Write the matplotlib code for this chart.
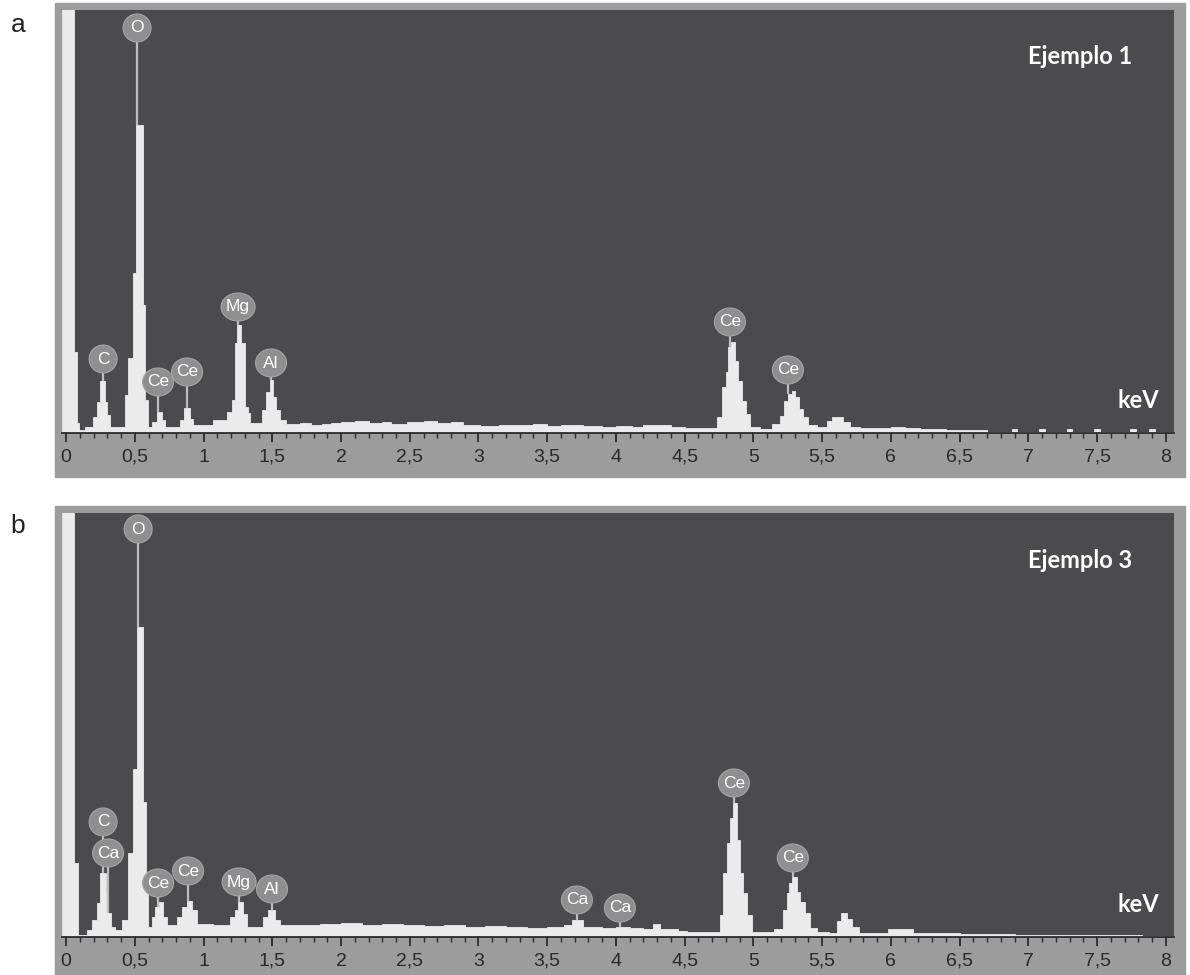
import numpy as np
import matplotlib
matplotlib.use("Agg")
import matplotlib.pyplot as plt
from matplotlib.patches import Rectangle, Ellipse
from matplotlib.transforms import ScaledTranslation

# energy channel edges (keV) and counts (arbitrary units)
edges_a = [-0.03, 0.055, 0.080, 0.095, 0.138, 0.196, 0.225, 0.247, 0.284, 0.298, 0.320,
           0.429, 0.451, 0.487, 0.509, 0.560, 0.575, 0.596, 0.625, 0.662, 0.698, 0.720,
           0.829, 0.858, 0.902, 0.924, 1.069, 1.171, 1.207, 1.229, 1.244, 1.273, 1.302,
           1.324, 1.338, 1.425, 1.455, 1.484, 1.505, 1.527, 1.556, 1.600, 1.700, 1.780,
           1.860, 1.930, 2.000, 2.100, 2.200, 2.300, 2.360, 2.480, 2.600, 2.700, 2.800,
           2.890, 3.010, 3.150, 3.280, 3.400, 3.500, 3.600, 3.760, 3.900, 4.000, 4.120,
           4.200, 4.300, 4.400, 4.500, 4.735, 4.771, 4.800, 4.815, 4.836, 4.865, 4.887,
           4.916, 4.945, 4.975, 5.047, 5.135, 5.193, 5.222, 5.251, 5.280, 5.302, 5.331,
           5.360, 5.396, 5.462, 5.535, 5.571, 5.651, 5.702, 5.775, 6.000, 6.100, 6.211,
           6.400, 6.700, 6.880, 6.920, 7.080, 7.120, 7.280, 7.320, 7.480, 7.520, 7.740,
           7.780, 7.880, 7.920, 8.060]
counts_a = [600, 81, 10, 3, 6, 16, 31, 52, 31, 18, 6,
            38, 75, 160, 308, 128, 33, 6, 11, 21, 13, 6,
            13, 25, 14, 8, 13, 21, 33, 90, 108, 90, 26,
            20, 10, 23, 41, 53, 36, 23, 13, 9, 10, 8,
            9, 10, 11, 12, 10, 11, 9, 11, 12, 10, 11,
            8, 7, 8, 8, 9, 7, 8, 7, 6, 7, 6,
            8, 8, 6, 5, 16, 46, 61, 86, 91, 72, 52,
            32, 19, 6, 4, 9, 17, 32, 39, 42, 36, 24,
            16, 8, 6, 12, 16, 11, 6, 5, 6, 5, 4,
            3, 1.5, 4, 1.5, 4, 1.5, 4, 1.5, 4, 1.5, 4,
            1.5, 4, 1.5]

edges_b = [-0.03, 0.058, 0.087, 0.153, 0.189, 0.225, 0.247, 0.291, 0.305, 0.327, 0.356,
           0.407, 0.451, 0.487, 0.516, 0.560, 0.582, 0.596, 0.625, 0.647, 0.676, 0.705,
           0.735, 0.807, 0.844, 0.880, 0.916, 0.953, 1.069, 1.193, 1.229, 1.251, 1.287,
           1.316, 1.433, 1.469, 1.520, 1.556, 1.850, 2.000, 2.150, 2.300, 2.450, 2.600,
           2.750, 2.900, 3.050, 3.200, 3.350, 3.500, 3.620, 3.680, 3.760, 3.900, 4.000,
           4.100, 4.200, 4.270, 4.320, 4.450, 4.520, 4.756, 4.778, 4.807, 4.829, 4.851,
           4.880, 4.902, 4.924, 4.953, 4.989, 5.150, 5.215, 5.244, 5.258, 5.280, 5.316,
           5.338, 5.375, 5.411, 5.462, 5.550, 5.607, 5.640, 5.680, 5.716, 5.770, 5.980,
           6.160, 6.500, 6.900, 7.300, 7.830, 8.060]
counts_b = [600, 74, 2, 7, 17, 34, 64, 44, 24, 10, 7,
            17, 84, 168, 310, 135, 50, 10, 20, 30, 35, 20,
            12, 20, 30, 36, 27, 13, 12, 20, 27, 35, 23,
            10, 20, 27, 17, 12, 13, 14, 12, 13, 12, 11,
            12, 10, 11, 10, 9, 10, 12, 17, 10, 9, 10,
            9, 8, 13, 8, 6, 5, 22, 64, 94, 119, 134,
            97, 64, 44, 22, 5, 8, 27, 44, 54, 60, 45,
            35, 24, 9, 5, 4, 16, 24, 18, 10, 4, 8,
            4, 3, 2.5, 2, 1]

# element labels: name, energy (keV), label height
labels_a = ["O", "C", "Ce", "Ce", "Mg", "Al", "Ce", "Ce"]
label_e_a = [0.516, 0.269, 0.669, 0.880, 1.251, 1.491, 4.829, 5.251]
label_h_a = [405, 74, 51, 61, 126, 70, 111, 63]

labels_b = ["O", "C", "Ca", "Ce", "Ce", "Mg", "Al", "Ca", "Ca", "Ce", "Ce"]
label_e_b = [0.524, 0.269, 0.305, 0.669, 0.887, 1.258, 1.498, 3.716, 4.029, 4.858, 5.287]
label_h_b = [408, 115, 84, 54, 66, 55, 48, 37, 29, 154, 79]

tick_values = [0, 0.5, 1, 1.5, 2, 2.5, 3, 3.5, 4, 4.5, 5, 5.5, 6, 6.5, 7, 7.5, 8]
tick_labels = ["0", "0,5", "1", "1,5", "2", "2,5", "3", "3,5", "4", "4,5",
               "5", "5,5", "6", "6,5", "7", "7,5", "8"]

W, H = 1190, 975
fig = plt.figure(figsize=(W / 100, H / 100), dpi=100)
fig.patch.set_facecolor("white")


def panel(top, bottom, frame_bottom, edges, counts, names, le, lh, title, letter, letter_y):
    # grey instrument frame
    fig.patches.append(Rectangle((55 / W, 1 - frame_bottom / H), 1130 / W, (frame_bottom - top + 7) / H,
                                 transform=fig.transFigure, color="#9c9c9c", zorder=-10))
    ax = fig.add_axes([62 / W, 1 - bottom / H, 1112 / W, (bottom - top) / H])
    ax.set_zorder(1)
    ax.set_facecolor("#4b4b4e")
    ax.stairs(counts, edges, fill=True, facecolor="#ebebeb", edgecolor="#ebebeb",
              lw=0.6, baseline=0, zorder=2)
    ax.set_xlim(-0.03, 8.06)
    ax.set_ylim(0, bottom - top)
    for s in ["top", "left", "right"]:
        ax.spines[s].set_visible(False)
    ax.spines["bottom"].set_color("#2b2b2b")
    ax.spines["bottom"].set_linewidth(1.3)
    ax.set_yticks([])
    ax.set_xticks(tick_values)
    ax.set_xticklabels(tick_labels, family="Liberation Sans", fontsize=14, color="#2a2a2a")
    ax.set_xticks(np.arange(0, 8.05, 0.1), minor=True)
    ax.tick_params(axis="x", which="major", direction="out", length=6.5, width=1.3,
                   color="#2b2b2b", pad=5)
    ax.tick_params(axis="x", which="minor", direction="out", length=3.5, width=1.0,
                   color="#2b2b2b")

    for name, e, h in zip(names, le, lh):
        i = np.searchsorted(edges, e, side="right") - 1
        ax.plot([e, e], [counts[i], h], color="#bdbdbd", lw=1.6, zorder=3,
                solid_capstyle="butt")
        w = 28 if len(name) == 1 else (34 if name == "Mg" else 31)
        tr = fig.dpi_scale_trans + ScaledTranslation(e, h, ax.transData)
        ax.add_patch(Ellipse((0, 0), w / 100, 28 / 100, transform=tr,
                             facecolor="#8f8f8f", edgecolor="#a5a5a5", lw=0.8, zorder=4))
        ax.text(e, h, name, ha="center", va="center", color="white", fontsize=12.5,
                family="Liberation Sans", zorder=5)

    ax.text((1080 - 62) / 1112, (bottom - (top + 47)) / (bottom - top), title,
            transform=ax.transAxes, ha="center", va="center", color="white",
            fontsize=17, fontweight="bold", family="Lato")
    ax.text((1138 - 62) / 1112, 33 / (bottom - top), "keV", transform=ax.transAxes,
            ha="center", va="center", color="white", fontsize=17, fontweight="bold",
            family="Lato")
    fig.text(18 / W, 1 - letter_y / H, letter, ha="center", va="baseline",
             fontsize=19, family="Liberation Sans", color="#222222")
    return ax


panel(10, 433, 477, edges_a, counts_a, labels_a, label_e_a, label_h_a, "Ejemplo 1", "a", 32)
panel(513, 937, 982, edges_b, counts_b, labels_b, label_e_b, label_h_b, "Ejemplo 3", "b", 533)

fig.savefig("out.png", dpi=100)
